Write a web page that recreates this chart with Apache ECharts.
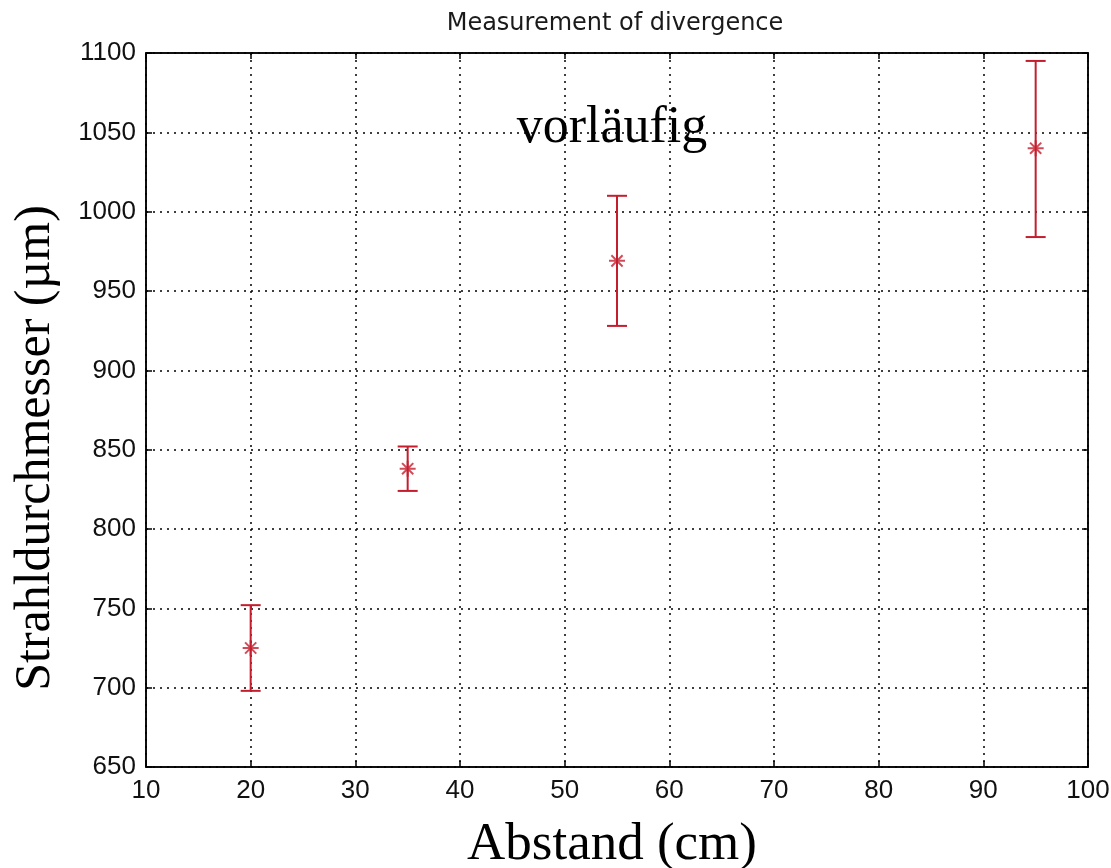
<!DOCTYPE html>
<html><head><meta charset="utf-8">
<script src="https://cdn.jsdelivr.net/npm/echarts@6/dist/echarts.min.js"></script>
<style>html,body{margin:0;padding:0;background:#fff}#c{width:1111px;height:868px}</style>
</head><body><div id="c"></div>
<script>
const abstand = [20, 35, 55, 95];
const durchmesser = [725, 838, 969, 1040];
const fehlerUnten = [698, 824, 928, 984];
const fehlerOben = [752, 852, 1010, 1095];
const xTicks = [10, 20, 30, 40, 50, 60, 70, 80, 90, 100];
const yTicks = [650, 700, 750, 800, 850, 900, 950, 1000, 1050, 1100];

const red = '#c41e2e';
const star = 'path://M0,-10L0,10M-10,0L10,0M-7,-7L7,7M-7,7L7,-7';

const chart = echarts.init(document.getElementById('c'), null, {renderer: 'canvas'});
const tickFont = {fontFamily: 'Liberation Sans, Arial, sans-serif', fontSize: 26, color: '#111'};
const serif = 'Liberation Serif, Times New Roman, serif';
const common = {
  type: 'value',
  axisLine: {show: true, lineStyle: {color: '#000', width: 1.5}},
  axisTick: {show: true, inside: true, length: 6, lineStyle: {color: '#000', width: 1.5}},
};
chart.setOption({
  animation: false,
  backgroundColor: '#fff',
  title: {
    text: 'Measurement of divergence', left: 610, top: 7, textAlign: 'center',
    textStyle: {fontFamily: 'DejaVu Sans, Verdana, sans-serif', fontSize: 24, fontWeight: 'normal', color: '#1a1a1a'}
  },
  grid: {left: 146, right: 23, top: 53, bottom: 101, show: true, borderColor: '#000', borderWidth: 1.5,
         backgroundColor: '#fff', outerBoundsMode: 'none', containLabel: false},
  xAxis: [
    Object.assign({}, common, {
      min: xTicks[0], max: xTicks[xTicks.length - 1], interval: 10, position: 'bottom',
      axisLabel: Object.assign({margin: 11, formatter: v => String(v)}, tickFont),
      splitLine: {show: true, lineStyle: {color: '#000', type: [2, 5], width: 1.5}},
      name: 'Abstand (cm)', nameLocation: 'middle', nameGap: 52,
      nameTextStyle: {fontFamily: serif, fontSize: 53, color: '#000', padding: [0, 10, 0, 0]}
    }),
    Object.assign({}, common, {
      min: xTicks[0], max: xTicks[xTicks.length - 1], interval: 10, position: 'top',
      axisLabel: {show: false}, splitLine: {show: false}
    })
  ],
  yAxis: [
    Object.assign({}, common, {
      min: yTicks[0], max: yTicks[yTicks.length - 1], interval: 50, position: 'left',
      axisLabel: Object.assign({margin: 10, formatter: v => String(v)}, tickFont),
      splitLine: {show: true, lineStyle: {color: '#000', type: [2, 5], width: 1.5}},
      name: 'Strahldurchmesser (µm)', nameLocation: 'middle', nameGap: 85, nameRotate: 90,
      nameTextStyle: {fontFamily: serif, fontSize: 50, color: '#000', padding: [0, 76, 0, 0]}
    }),
    Object.assign({}, common, {
      min: yTicks[0], max: yTicks[yTicks.length - 1], interval: 50, position: 'right',
      axisLabel: {show: false}, splitLine: {show: false}
    })
  ],
  graphic: [{
    type: 'text', x: 612, y: 128,
    style: {text: 'vorläufig', font: '52px "Liberation Serif", "Times New Roman", serif', fill: '#000',
            align: 'center', verticalAlign: 'middle'}
  }],
  series: [
    {
      type: 'custom',
      data: abstand.map((x, i) => [x, fehlerUnten[i], fehlerOben[i]]),
      renderItem: function (params, api) {
        const lo = api.coord([api.value(0), api.value(1)]);
        const hi = api.coord([api.value(0), api.value(2)]);
        const w = 10;
        const ls = {stroke: red, lineWidth: 2};
        return {
          type: 'group', children: [
            {type: 'line', shape: {x1: lo[0], y1: lo[1], x2: hi[0], y2: hi[1]}, style: ls},
            {type: 'line', shape: {x1: lo[0] - w, y1: lo[1], x2: lo[0] + w, y2: lo[1]}, style: ls},
            {type: 'line', shape: {x1: hi[0] - w, y1: hi[1], x2: hi[0] + w, y2: hi[1]}, style: ls}
          ]
        };
      },
      z: 5
    },
    {
      type: 'scatter',
      data: abstand.map((x, i) => [x, durchmesser[i]]),
      symbol: star, symbolSize: 16,
      itemStyle: {color: 'none', borderColor: red, borderWidth: 2},
      z: 6
    }
  ]
});
</script></body></html>
